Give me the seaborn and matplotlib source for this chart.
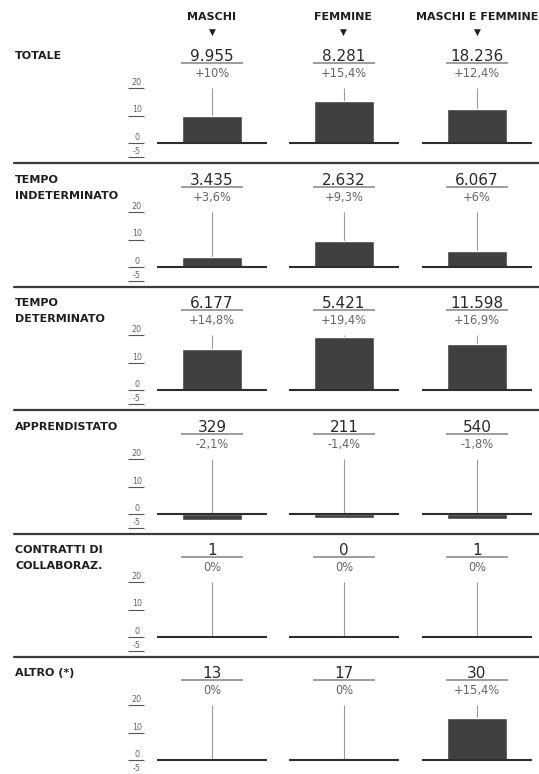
import matplotlib
matplotlib.use("Agg")
import matplotlib.pyplot as plt
from matplotlib.lines import Line2D
import seaborn as sns
import pandas as pd

# ---- data ----
categories = ["TOTALE", "TEMPO\nINDETERMINATO", "TEMPO\nDETERMINATO",
              "APPRENDISTATO", "CONTRATTI DI\nCOLLABORAZ.", "ALTRO (*)"]
groups = ["MASCHI", "FEMMINE", "MASCHI E FEMMINE"]
counts_m = [9955, 3435, 6177, 329, 1, 13]
counts_f = [8281, 2632, 5421, 211, 0, 17]
counts_mf = [18236, 6067, 11598, 540, 1, 30]
pct_m = [10, 3.6, 14.8, -2.1, 0, 0]
pct_f = [15.4, 9.3, 19.4, -1.4, 0, 0]
pct_mf = [12.4, 6, 16.9, -1.8, 0, 15.4]
y_ticks = [20, 10, 0, -5]

counts = [counts_m, counts_f, counts_mf]
pcts = [pct_m, pct_f, pct_mf]

sns.set_theme(style="white")
plt.rcParams['font.family'] = ['DejaVu Sans']

W, H = 539, 774
fig = plt.figure(figsize=(W / 100, H / 100), dpi=100)
fig.patch.set_facecolor("white")

def fx(x):
    return x / W

def fy(y):
    return 1 - y / H

def fmt_count(n):
    return f"{n:,}".replace(",", ".")

def fmt_pct(p):
    s = f"{abs(p):.1f}".rstrip("0").rstrip(".").replace(".", ",")
    if p > 0:
        return "+" + s + "%"
    if p < 0:
        return "-" + s + "%"
    return "0%"

baselines = [143, 267, 390, 514, 637, 760]
col_left = [157, 289, 422]
col_centers = [212, 343, 477]
panel_w = 110
px_per_unit = 2.75
ymin, ymax = -6, 22
ax_h = (ymax - ymin) * px_per_unit
bar_color = "#404040"
dark = "#2e2e2e"

# column headers
for c, g in enumerate(groups):
    fig.text(fx(col_centers[c]), fy(17), g, ha="center", va="center",
             fontsize=8.0, fontweight="bold", color="#1e1e1e")
    fig.text(fx(col_centers[c]), fy(32), "\u25BC", ha="center", va="center",
             fontsize=6.5, color="#1e1e1e")

for r, cat in enumerate(categories):
    b = baselines[r]
    # row label
    for i, line in enumerate(cat.split("\n")):
        fig.text(fx(15), fy(b - 87 + 16 * i), line, ha="left", va="center",
                 fontsize=8.0, fontweight="bold", color="#1e1e1e")
    # tick column
    tax = fig.add_axes([fx(127), fy(b - ymin * px_per_unit), 18 / W, ax_h / H])
    tax.set_xlim(0, 1)
    tax.set_ylim(ymin, ymax)
    tax.axis("off")
    tax.hlines(y_ticks, 0.05, 0.95, color="#555555", lw=0.8)
    for t in y_ticks:
        tax.text(0.55, t + 2.0, str(t), ha="center", va="center",
                 fontsize=5.8, color="#666666")
    # cells
    for c in range(3):
        ax = fig.add_axes([fx(col_left[c]), fy(b - ymin * px_per_unit),
                           panel_w / W, ax_h / H])
        df = pd.DataFrame({"g": [groups[c]], "v": [pcts[c][r]]})
        ax.vlines(0, 0, 20, color="#9a9a9a", lw=0.8, zorder=0)
        sns.barplot(data=df, x="g", y="v", ax=ax, color=bar_color,
                    width=0.545, saturation=1, zorder=2)
        ax.set_xlim(-0.5, 0.5)
        ax.set_ylim(ymin, ymax)
        ax.axis("off")
        ax.axhline(0, color=dark, lw=1.5, zorder=3)
        ax.text(0, 31.6, fmt_count(counts[c][r]), ha="center", va="center",
                fontsize=11, color="#2a2a2a", clip_on=False)
        ax.plot([-0.28, 0.28], [29.1, 29.1], color="#8c8c8c", lw=1.2,
                clip_on=False, solid_capstyle="butt")
        ax.text(0, 25.3, fmt_pct(pcts[c][r]), ha="center", va="center",
                fontsize=8.3, color="#666666", clip_on=False)
    if r < len(categories) - 1:
        fig.add_artist(Line2D([fx(14), 1], [fy(b + 20), fy(b + 20)],
                              color="#3a3a3a", lw=1.6))

fig.savefig("out.png", dpi=100, facecolor="white")
